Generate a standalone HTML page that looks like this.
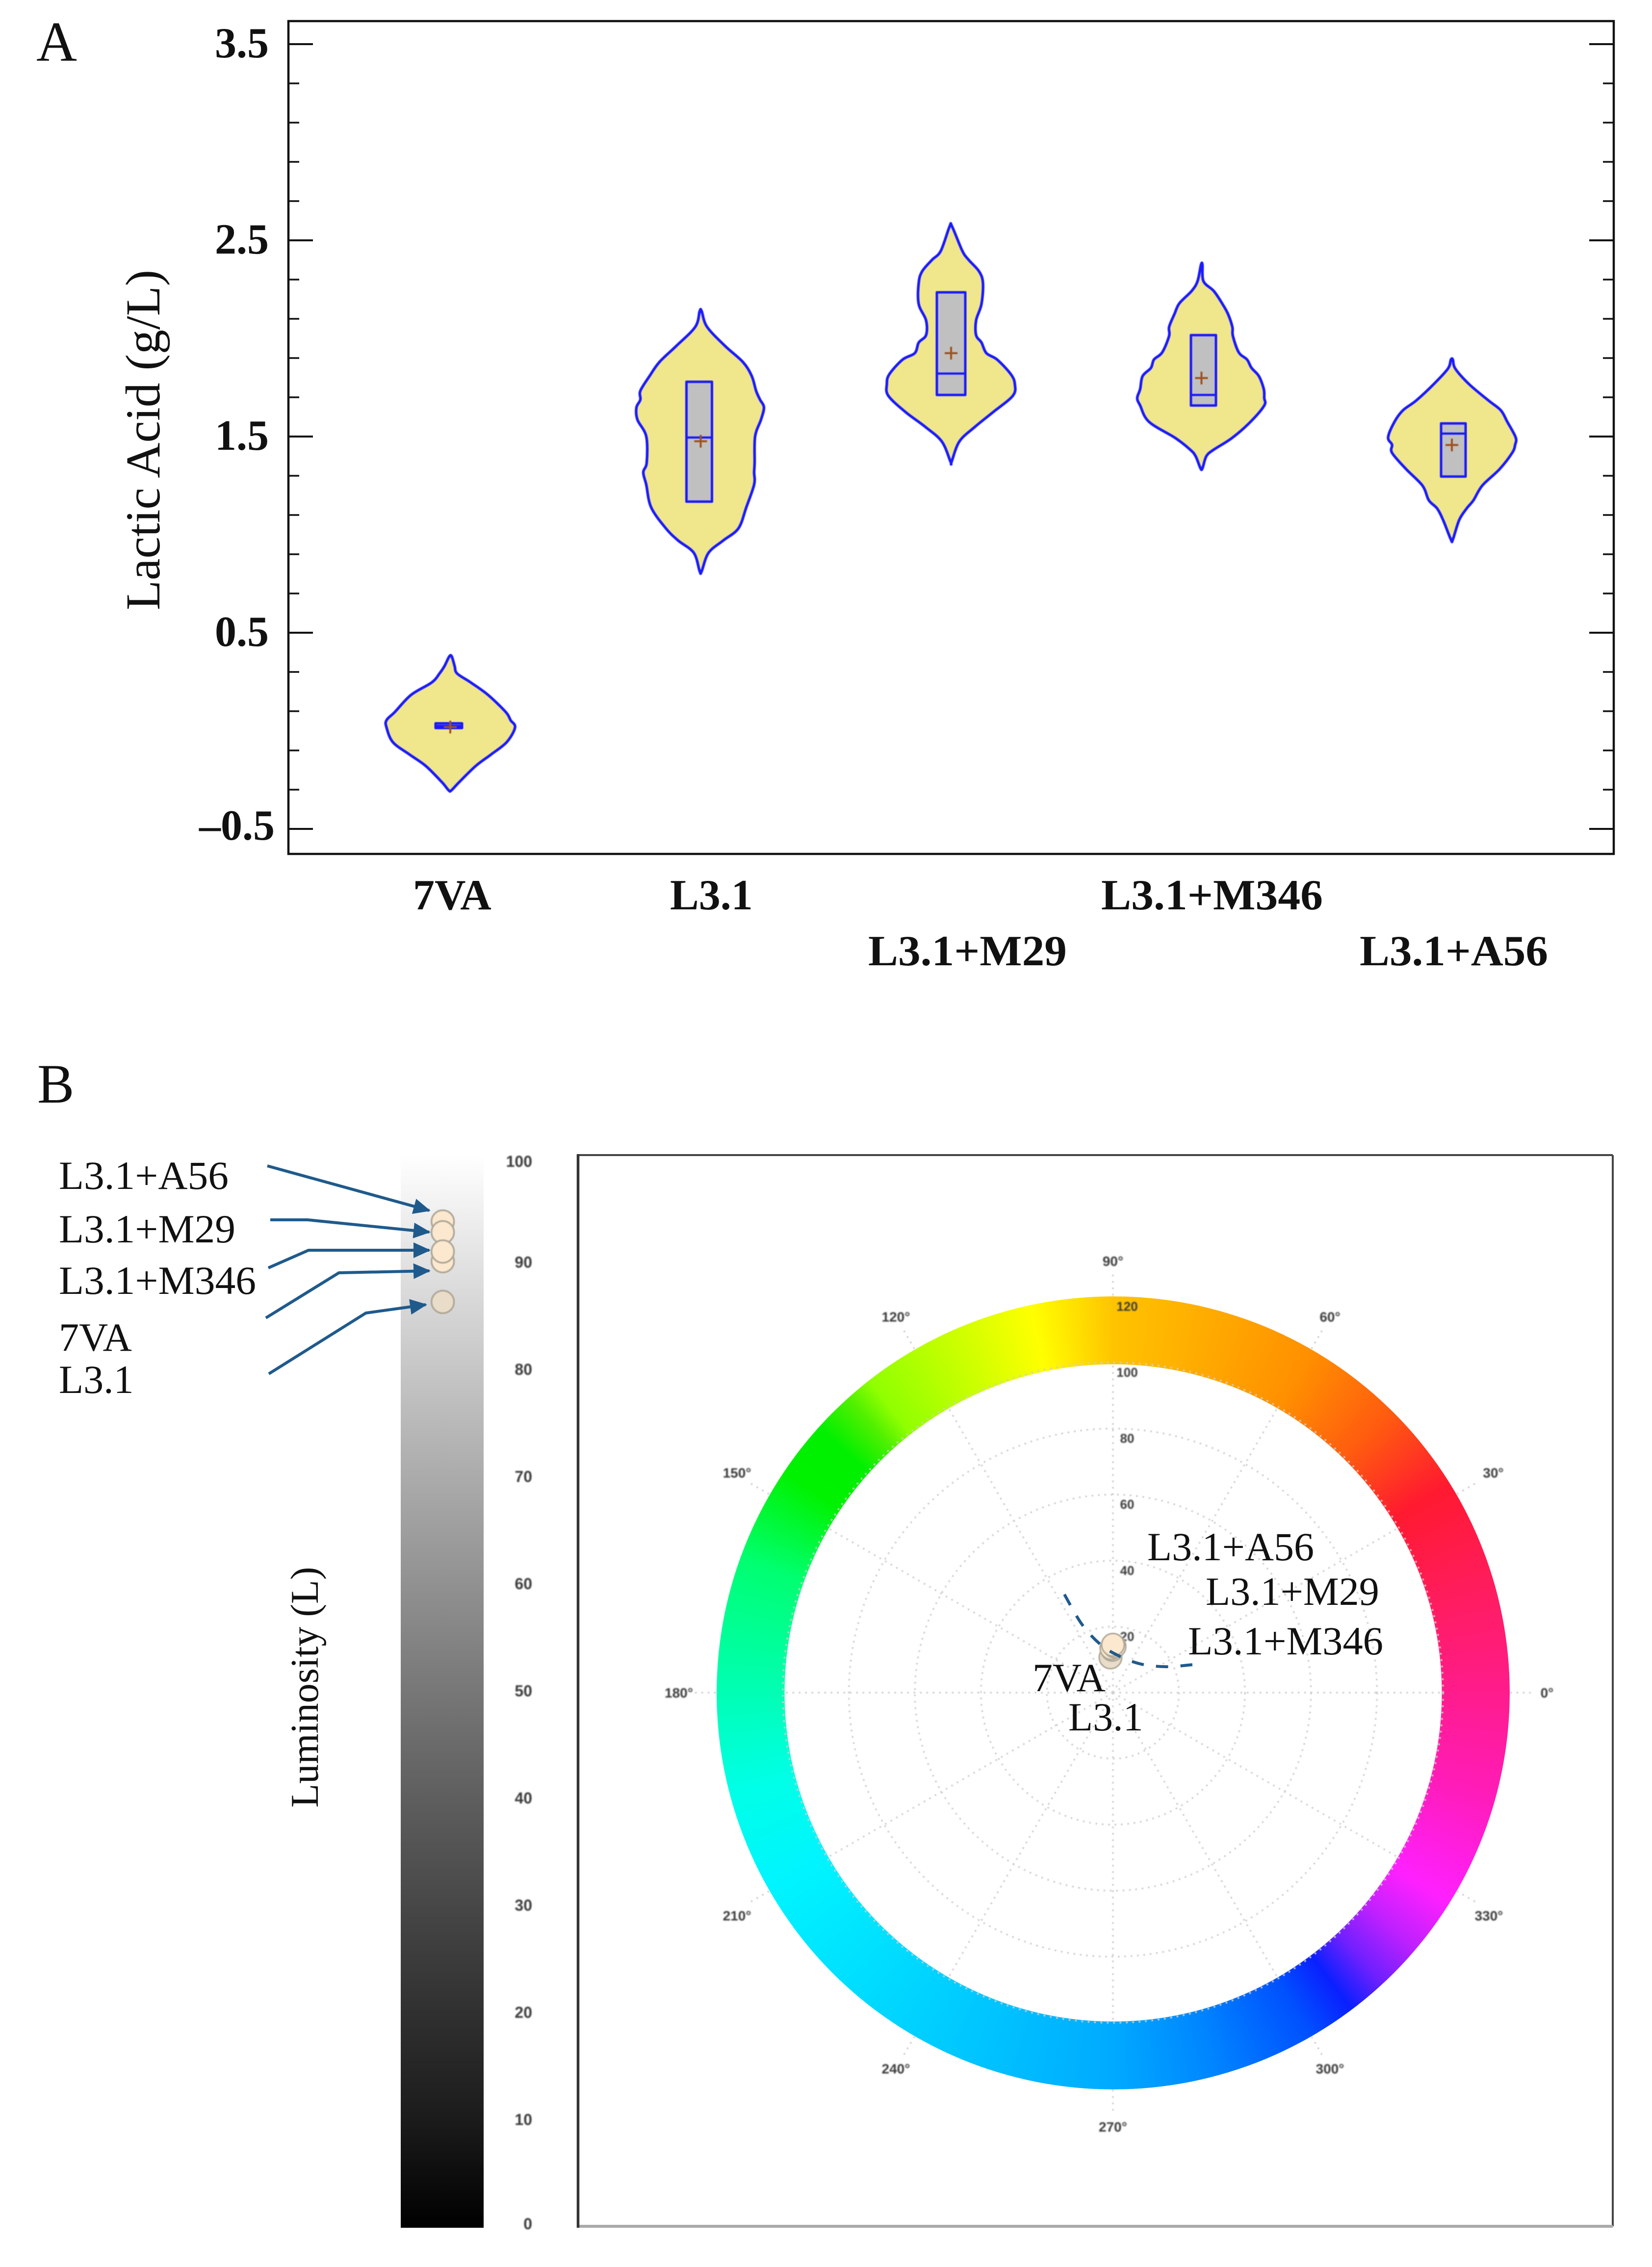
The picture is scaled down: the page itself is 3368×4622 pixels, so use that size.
<!DOCTYPE html>
<html lang="en">
<head>
<meta charset="utf-8">
<title>Lactic acid violin plot and colour space chart</title>
<style>
  html, body { margin: 0; padding: 0; background: #fff; }
  #page { position: relative; width: 3368px; height: 4622px; overflow: hidden; background: #fff; }
  #hue-ring {
    position: absolute; left: 1460.5px; top: 2642.5px; width: 1617px; height: 1617px; border-radius: 50%;
    background: conic-gradient(from 90deg,
      #ff1c8c 0deg, #ff1cb8 15deg, #ff20ff 32deg, #c020ff 40deg, #7020ff 47deg, #0a20ff 53deg, #0050ff 60deg,
      #0085ff 75deg, #00aaff 90deg, #00d0ff 120deg, #00f4ff 150deg, #00ffe8 165deg, #00ffb4 180deg, #00ff70 200deg,
      #00f200 214deg, #00f000 222deg, #50f000 228deg, #90ff00 232deg, #ffff00 258deg, #ffc400 270deg, #ff9000 300deg,
      #ff5a10 315deg, #ff1a30 328deg, #ff1c60 345deg, #ff1c8c 360deg);
    -webkit-mask: radial-gradient(circle at center, transparent 669.5px, #000 670.5px);
    mask: radial-gradient(circle at center, transparent 669.5px, #000 670.5px);
  }
  svg { position: absolute; left: 0; top: 0; }
  text { font-family: "Liberation Serif", serif; fill: #111; }
  .bold { font-weight: bold; font-size: 88px; }
  .lab { font-size: 82px; }
  .small { font-family: "Liberation Sans", sans-serif; fill: #3a3a3a; }
</style>
</head>
<body>
<div id="page">
  <div id="hue-ring"></div>
  <svg id="chart" width="3368" height="4622" viewBox="0 0 3368 4622">
    <defs>
      <filter id="soft" x="-5%" y="-5%" width="110%" height="110%" color-interpolation-filters="sRGB"><feGaussianBlur stdDeviation="1.2"/></filter>
      <filter id="softer" x="-5%" y="-5%" width="110%" height="110%" color-interpolation-filters="sRGB"><feGaussianBlur stdDeviation="0.8"/></filter>
      <linearGradient id="lum" x1="0" y1="0" x2="0" y2="1">
        <stop offset="0" stop-color="#ffffff"/><stop offset="0.1" stop-color="#e2e2e2"/>
        <stop offset="0.2" stop-color="#c6c6c6"/><stop offset="0.3" stop-color="#ababab"/>
        <stop offset="0.4" stop-color="#919191"/><stop offset="0.5" stop-color="#777777"/>
        <stop offset="0.6" stop-color="#5e5e5e"/><stop offset="0.7" stop-color="#474747"/>
        <stop offset="0.8" stop-color="#303030"/><stop offset="0.9" stop-color="#1b1b1b"/>
        <stop offset="1" stop-color="#000000"/>
      </linearGradient>
      <marker id="head" markerUnits="userSpaceOnUse" markerWidth="36" markerHeight="32" refX="32" refY="16" orient="auto">
        <path d="M0,0 L35,16 L0,32 Z" fill="#1f5a8c"/>
      </marker>
    </defs>

    <text x="74" y="124" font-size="115">A</text>
    <text x="76" y="2248" font-size="113">B</text>

    <rect x="588" y="43" width="2702" height="1698" fill="none" stroke="#111" stroke-width="4.5"/>
    <text transform="rotate(-90 325 897)" x="325" y="897" font-size="100" text-anchor="middle" fill="#222">Lactic Acid (g/L)</text>
    <g id="violin-axis"></g>
    <g id="violins" filter="url(#softer)"></g>
    <text class="bold" x="842" y="1854">7VA</text>
    <text class="bold" x="1366" y="1854">L3.1</text>
    <text class="bold" x="1770" y="1968" textLength="405" lengthAdjust="spacingAndGlyphs">L3.1+M29</text>
    <text class="bold" x="2245" y="1854" textLength="452" lengthAdjust="spacingAndGlyphs">L3.1+M346</text>
    <text class="bold" x="2772" y="1968" textLength="384" lengthAdjust="spacingAndGlyphs">L3.1+A56</text>

    <text class="lab" x="120" y="2424" textLength="346" lengthAdjust="spacingAndGlyphs">L3.1+A56</text>
    <text class="lab" x="120" y="2533" textLength="360" lengthAdjust="spacingAndGlyphs">L3.1+M29</text>
    <text class="lab" x="120" y="2638" textLength="402" lengthAdjust="spacingAndGlyphs">L3.1+M346</text>
    <text class="lab" x="120" y="2754">7VA</text>
    <text class="lab" x="120" y="2840">L3.1</text>
    <text transform="rotate(-90 648 3440)" x="648" y="3440" font-size="80" text-anchor="middle" fill="#222">Luminosity (L)</text>

    <rect x="817" y="2355" width="169" height="2187" fill="url(#lum)"/>
    <g id="lum-axis"></g>
    <g id="lum-dots" filter="url(#softer)"></g>

    <g fill="none" stroke="#1f5a8c" stroke-width="6" marker-end="url(#head)">
      <polyline points="545,2377 875,2468"/>
      <polyline points="551,2487 627,2487 875,2512"/>
      <polyline points="547,2585 629,2549 875,2549"/>
      <polyline points="542,2687 691,2595 875,2591"/>
      <polyline points="548,2801 746,2677 868,2660"/>
    </g>

    <g>
      <line x1="1178" y1="2355" x2="3288" y2="2355" stroke="#444" stroke-width="4"/>
      <line x1="3288" y1="2355" x2="3288" y2="4539" stroke="#444" stroke-width="4"/>
      <line x1="1178" y1="4539" x2="3288" y2="4539" stroke="#aaa" stroke-width="6"/>
      <line x1="1178.5" y1="2353" x2="1178.5" y2="4542" stroke="#333" stroke-width="5.5"/>
    </g>

    <g id="polar-grid" filter="url(#softer)"></g>
    <g id="polar-labels" filter="url(#soft)"></g>
    <g id="polar-dots" filter="url(#softer)"></g>
    <path id="hue-curve" fill="none" stroke="#1f5a8c" stroke-width="6" stroke-dasharray="25 25"/>

    <text class="lab" x="2339" y="3181">L3.1+A56</text>
    <text class="lab" x="2458" y="3272">L3.1+M29</text>
    <text class="lab" x="2422" y="3373" textLength="398" lengthAdjust="spacingAndGlyphs">L3.1+M346</text>
    <text class="lab" x="2105" y="3448">7VA</text>
    <text class="lab" x="2178" y="3528">L3.1</text>
  </svg>
</div>
<script>
const categories = ['7VA', 'L3.1', 'L3.1+M29', 'L3.1+M346', 'L3.1+A56'];
const yTickValues = [3.5, 2.5, 1.5, 0.5, -0.5];
const yTickLabels = ['3.5', '2.5', '1.5', '0.5', '\u20130.5'];

const violinValues = [
  [0.379,0.329,0.292,0.246,0.183,0.096,0.054,0.017,-0.058,-0.121,-0.179,-0.262,-0.304],
  [2.139,2.059,1.961,1.880,1.809,1.733,1.688,1.648,1.586,1.501,1.367,1.318,1.255,1.139,1.032,0.970,0.907,0.813],
  [2.571,2.446,2.400,2.342,2.283,2.175,2.092,2.017,1.979,1.925,1.892,1.817,1.767,1.708,1.625,1.550,1.475,1.371],
  [2.375,2.292,2.242,2.179,2.125,2.058,2.013,1.929,1.892,1.850,1.808,1.742,1.696,1.658,1.575,1.492,1.433,1.400,1.338],
  [1.892,1.846,1.767,1.683,1.633,1.575,1.496,1.458,1.417,1.333,1.250,1.175,1.133,1.075,0.975]
];
const violinDensityLeft = [
  [0.02,0.12,0.22,0.38,0.80,1.13,1.30,1.30,1.17,0.83,0.50,0.17,0.03],
  [0.02,0.11,0.50,0.84,1.04,1.23,1.23,1.31,1.29,1.11,1.10,1.17,1.11,1.01,0.71,0.46,0.14,0.02],
  [0.03,0.21,0.39,0.59,0.66,0.66,0.51,0.51,0.66,0.74,0.99,1.26,1.31,1.28,0.93,0.53,0.19,0.01],
  [0.01,0.08,0.20,0.45,0.55,0.66,0.66,0.80,0.97,1.03,1.20,1.25,1.31,1.25,1.07,0.53,0.23,0.12,0.02],
  [0.02,0.08,0.37,0.73,1.00,1.17,1.30,1.22,1.22,0.93,0.60,0.47,0.30,0.18,0.02]
];
const violinDensityRight = [
  [0.03,0.09,0.14,0.42,0.77,1.13,1.23,1.32,1.15,0.83,0.52,0.18,0.02],
  [0.02,0.13,0.50,0.86,1.04,1.13,1.21,1.29,1.23,1.11,1.10,1.09,1.09,0.93,0.77,0.46,0.16,0.02],
  [0.02,0.23,0.36,0.57,0.65,0.62,0.51,0.51,0.62,0.72,0.94,1.22,1.30,1.26,0.86,0.49,0.17,0.01],
  [0.02,0.04,0.25,0.42,0.54,0.63,0.64,0.76,0.93,1.02,1.17,1.27,1.28,1.28,1.00,0.62,0.25,0.10,0.02],
  [0.02,0.07,0.35,0.75,1.00,1.13,1.30,1.29,1.23,0.97,0.62,0.44,0.30,0.15,0.02]
];
const boxHigh = [0.038, 1.779, 2.235, 2.017, 1.567];
const boxMedian = [0.025, 1.495, 1.821, 1.712, 1.515];
const boxLow = [0.014, 1.168, 1.712, 1.658, 1.296];
const boxMean = [0.019, 1.476, 1.925, 1.798, 1.457];
const boxShift = [-0.03, -0.03, 0, 0.04, 0.03];
const boxHalfWidth = [0.27, 0.26, 0.29, 0.255, 0.25];

const lumTicks = [100, 90, 80, 70, 60, 50, 40, 30, 20, 10, 0];
const lumSamples = ['L3.1+A56', 'L3.1+M29', '7VA', 'L3.1+M346', 'L3.1'];
const lumValues = [93.8, 92.8, 90.1, 91.0, 86.3];

const radialTicks = [20, 40, 60, 80, 100, 120];
const hueTicks = [0, 30, 60, 90, 120, 150, 180, 210, 240, 270, 300, 330];
const sampleHue = [90, 88, 92, 91, 94];
const sampleChroma = [14.5, 14, 13.5, 13, 10.7];
const sampleNames = ['L3.1+A56', 'L3.1+M29', 'L3.1+M346', '7VA', 'L3.1'];
const curveHue = [116.3, 114.4, 104.3, 79.3, 45, 25.9, 19.4];
const curveChroma = [33.2, 22.7, 15, 11.2, 12.2, 18, 25.5];

const NS = 'http://www.w3.org/2000/svg';
function mk(tag, parent, attrs, txt) {
  const n = document.createElementNS(NS, tag);
  for (const k in attrs) n.setAttribute(k, attrs[k]);
  if (txt !== undefined) n.textContent = txt;
  parent.appendChild(n);
  return n;
}
function slug(s) { return s.toLowerCase().replace(/[^a-z0-9]+/g, '-'); }
function spline(pts, closed) {
  const n = pts.length;
  const at = i => closed ? pts[(i + n) % n] : pts[Math.min(Math.max(i, 0), n - 1)];
  let d = 'M' + pts[0][0].toFixed(1) + ',' + pts[0][1].toFixed(1);
  const last = closed ? n : n - 1;
  for (let i = 0; i < last; i++) {
    const p0 = at(i - 1), p1 = at(i), p2 = at(i + 1), p3 = at(i + 2);
    const c1x = p1[0] + (p2[0] - p0[0]) / 6, c1y = p1[1] + (p2[1] - p0[1]) / 6;
    const c2x = p2[0] - (p3[0] - p1[0]) / 6, c2y = p2[1] - (p3[1] - p1[1]) / 6;
    d += ' C' + c1x.toFixed(1) + ',' + c1y.toFixed(1) + ' ' + c2x.toFixed(1) + ',' + c2y.toFixed(1) + ' ' + p2[0].toFixed(1) + ',' + p2[1].toFixed(1);
  }
  return d + (closed ? ' Z' : '');
}

/* Panel A scales */
const yA = v => 1690 - (v + 0.5) * 400;
const xA = i => 918 + 510.5 * i;
const dA = d => d * 100;

const axisG = document.getElementById('violin-axis');
yTickValues.forEach((v, i) => {
  const y = yA(v);
  const l = mk('line', axisG, {x1: 588, x2: 638, y1: y, y2: y, stroke: '#111', 'stroke-width': 4});
  
  
  const r = mk('line', axisG, {x1: 3240, x2: 3290, y1: y, y2: y, stroke: '#111', 'stroke-width': 4});
  
  
  const t = mk('text', axisG, {x: v < 0 ? 560 : 548, y: y + (v < 0 ? 22 : 27), 'text-anchor': 'end', 'font-size': 88, 'font-weight': 'bold'}, yTickLabels[i]);
  
  
  if (i < yTickValues.length - 1) {
    for (let k = 1; k < 5; k++) {
      const my = yA(v - k * (v - yTickValues[i + 1]) / 5);
      const a = mk('line', axisG, {x1: 588, x2: 610, y1: my, y2: my, stroke: '#111', 'stroke-width': 3.5});
      
      
      const b = mk('line', axisG, {x1: 3268, x2: 3290, y1: my, y2: my, stroke: '#111', 'stroke-width': 3.5});
      
      
    }
  }
});

const vG = document.getElementById('violins');
categories.forEach((cat, i) => {
  const cx = xA(i);
  const vals = violinValues[i];
  const left = vals.map((v, k) => [cx - dA(violinDensityLeft[i][k]), yA(v)]);
  const right = vals.map((v, k) => [cx + dA(violinDensityRight[i][k]), yA(v)]).reverse();
  const g = mk('g', vG, {});
  
  
  const body = mk('path', g, {d: spline(left.concat(right), true), fill: '#f0e68c', stroke: '#1a1aff', 'stroke-width': 5.5, 'stroke-linejoin': 'round'});
  
  
  const bx = cx + dA(boxShift[i]);
  const hw = dA(boxHalfWidth[i]);
  const box = mk('rect', g, {x: bx - hw, y: yA(boxHigh[i]), width: hw * 2, height: yA(boxLow[i]) - yA(boxHigh[i]), fill: '#c0c0c0', stroke: '#1a1aff', 'stroke-width': 5, 'stroke-linejoin': 'round'});
  
  
  const med = mk('line', g, {x1: bx - hw, x2: bx + hw, y1: yA(boxMedian[i]), y2: yA(boxMedian[i]), stroke: '#1a1aff', 'stroke-width': 4.5});
  
  
  const my = yA(boxMean[i]);
  const m1 = mk('line', g, {x1: cx - 13, x2: cx + 13, y1: my, y2: my, stroke: '#a0521e', 'stroke-width': 4});
  
  
  const m2 = mk('line', g, {x1: cx, x2: cx, y1: my - 13, y2: my + 13, stroke: '#a0521e', 'stroke-width': 4});
  
  
});

/* Panel B luminosity */
const yL = v => 4540 - v * 21.85;
const lumAxis = document.getElementById('lum-axis');
lumTicks.forEach(v => {
  const y = yL(v);
  const edge = v === 100 || v === 0;
  const tick = mk('line', lumAxis, {x1: 986, x2: 1007, y1: y, y2: y, stroke: edge ? '#c4c4c4' : '#666', 'stroke-width': 3.5, filter: 'url(#softer)'});
  
  
  const dy = v === 100 ? 13 : v === 0 ? -6 : 0;
  const t = mk('text', lumAxis, {class: 'small', x: 1085, y: y + dy + 11, 'text-anchor': 'end', 'font-size': 32, 'font-weight': 'bold', filter: 'url(#soft)'}, String(v));
  
  
});
const lumDots = document.getElementById('lum-dots');
lumSamples.forEach((name, i) => {
  const last = i === lumSamples.length - 1;
  const c = mk('circle', lumDots, {cx: 902.7, cy: yL(lumValues[i]), r: 23, fill: last ? '#e9dcc8' : '#fbe8cf', stroke: '#b0a898', 'stroke-width': 3.5});
  
  
});

/* Panel B polar */
const CX = 2269, CY = 3451, RU = 6.73;
const px = (h, c) => CX + c * RU * Math.cos(h * Math.PI / 180);
const py = (h, c) => CY - c * RU * Math.sin(h * Math.PI / 180);
const grid = document.getElementById('polar-grid');
const labels = document.getElementById('polar-labels');
radialTicks.forEach(v => {
  if (v <= 100) {
    const c = mk('circle', grid, {cx: CX, cy: CY, r: v * RU, fill: 'none', stroke: '#d0d0d0', 'stroke-width': 3.5, 'stroke-dasharray': '3.5 9.5'});
    
    
  }
  const t = mk('text', labels, {class: 'small', x: CX + 29, y: CY - v * RU + 29, 'text-anchor': 'middle', 'font-size': 26, 'font-weight': 'bold'}, String(v));
  
  
});
hueTicks.forEach(h => {
  const inner = mk('line', grid, {x1: CX, y1: CY, x2: px(h, 99.5), y2: py(h, 99.5), stroke: '#d0d0d0', 'stroke-width': 3.5, 'stroke-dasharray': '3.5 9.5'});
  
  
  const outer = mk('line', grid, {x1: px(h, 120.3), y1: py(h, 120.3), x2: px(h, 127), y2: py(h, 127), stroke: '#d0d0d0', 'stroke-width': 3.5, 'stroke-dasharray': '3.5 9.5'});
  
  
  const ny = (h === 210 || h === 330) ? 12 : (h === 30 || h === 150) ? -6 : h === 90 ? 5 : 0;
  const nx = h === 30 ? 9 : 0;
  const t = mk('text', labels, {class: 'small', x: px(h, 131.5) + nx, y: py(h, 131.5) + 10 + ny, 'text-anchor': 'middle', 'font-size': 28, 'font-weight': 'bold'}, h + '\u00b0');
  
  
});
const polarDots = document.getElementById('polar-dots');
[4, 3, 2, 1, 0].forEach(i => {
  const c = mk('circle', polarDots, {cx: px(sampleHue[i], sampleChroma[i]), cy: py(sampleHue[i], sampleChroma[i]), r: 23, fill: i === 4 ? '#e9dcc8' : '#fbe8cf', stroke: '#b0a898', 'stroke-width': 3});
  
  
});
const pts = curveHue.map((h, i) => [px(h, curveChroma[i]), py(h, curveChroma[i])]);
document.getElementById('hue-curve').setAttribute('d', spline(pts, false));
</script>
</body>
</html>
